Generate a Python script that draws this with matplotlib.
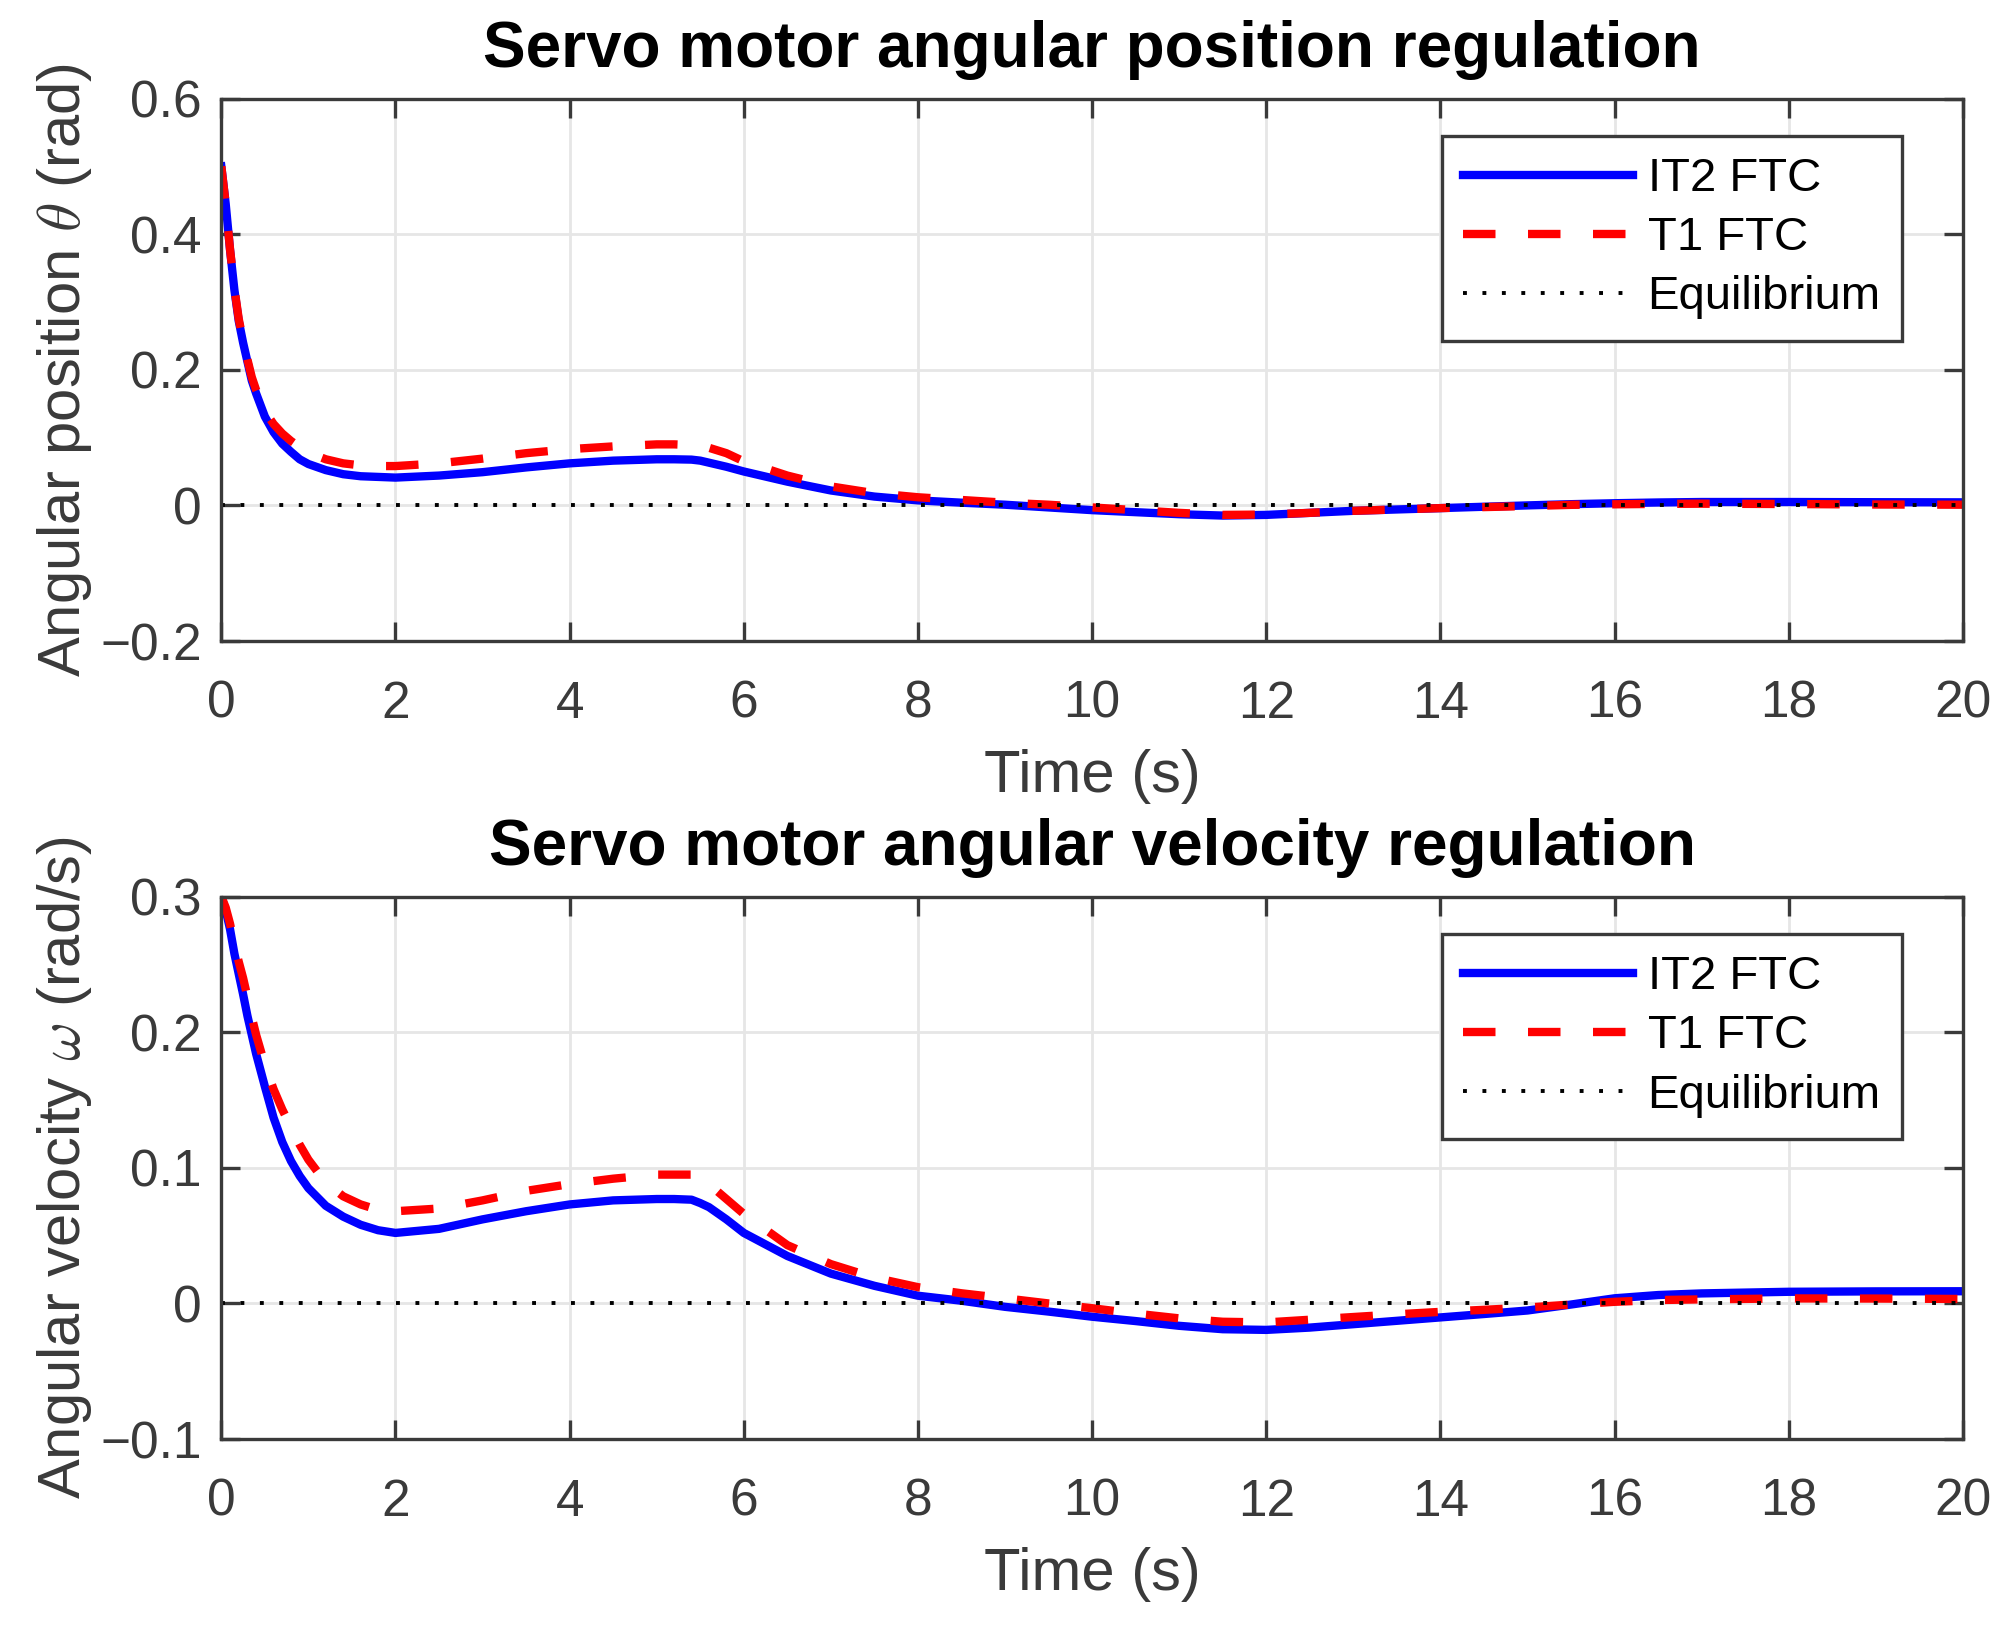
import numpy as np
import matplotlib
matplotlib.use("Agg")
import matplotlib.pyplot as plt

plt.rcParams['font.family'] = ['Liberation Sans', 'DejaVu Sans']
plt.rcParams['mathtext.fontset'] = 'cm'

# time samples (s)
t = [0, 0.05, 0.1, 0.15, 0.2, 0.25, 0.3, 0.35, 0.4, 0.5, 0.6, 0.7, 0.8, 0.9, 1.0,
     1.2, 1.4, 1.6, 1.8, 2.0, 2.5, 3.0, 3.5, 4.0, 4.5, 5.0, 5.2, 5.4, 5.5, 5.6, 5.8,
     6.0, 6.5, 7.0, 7.5, 8.0, 8.5, 9.0, 9.5, 10, 10.5, 11, 11.5, 12, 12.5, 13, 13.5,
     14, 14.5, 15, 15.5, 16, 16.5, 17, 18, 19, 20]

# angular position (rad)
theta_it2 = [0.50, 0.445, 0.377, 0.318, 0.272, 0.240, 0.212, 0.184, 0.165, 0.131, 0.108,
             0.091, 0.079, 0.068, 0.061, 0.052, 0.046, 0.043, 0.042, 0.041, 0.044, 0.049,
             0.056, 0.062, 0.066, 0.068, 0.068, 0.0675, 0.066, 0.063, 0.057,
             0.050, 0.035, 0.022, 0.013, 0.0074, 0.004, 0.001, -0.003, -0.007, -0.010,
             -0.013, -0.015, -0.014, -0.011, -0.008, -0.006, -0.004, -0.002, 0.0, 0.0018,
             0.0032, 0.0043, 0.005, 0.005, 0.0047, 0.0045]
theta_t1 = [0.50, 0.445, 0.378, 0.320, 0.275, 0.243, 0.215, 0.189, 0.170, 0.139, 0.120,
            0.106, 0.095, 0.086, 0.078, 0.068, 0.062, 0.059, 0.058, 0.058, 0.062, 0.069,
            0.077, 0.083, 0.087, 0.090, 0.090, 0.089, 0.087, 0.085, 0.077,
            0.065, 0.044, 0.028, 0.018, 0.012, 0.008, 0.004, 0.001, -0.003, -0.007,
            -0.011, -0.014, -0.0135, -0.011, -0.008, -0.006, -0.004, -0.0025, -0.001, 0.0008,
            0.0016, 0.0022, 0.0025, 0.002, 0.0013, 0.001]

# angular velocity (rad/s)
omega_it2 = [0.30, 0.29, 0.276, 0.258, 0.243, 0.228, 0.212, 0.198, 0.184, 0.160, 0.137,
             0.119, 0.105, 0.094, 0.085, 0.072, 0.064, 0.058, 0.054, 0.052, 0.055, 0.062,
             0.068, 0.073, 0.076, 0.077, 0.077, 0.0765, 0.074, 0.071, 0.062,
             0.052, 0.035, 0.022, 0.013, 0.0057, 0.002, -0.0025, -0.006, -0.0098, -0.013,
             -0.0165, -0.019, -0.0195, -0.0178, -0.0153, -0.0128, -0.0103, -0.0078, -0.0052, -0.0008,
             0.0038, 0.0062, 0.0074, 0.0086, 0.0089, 0.009]
omega_t1 = [0.30, 0.292, 0.28, 0.265, 0.252, 0.24, 0.226, 0.211, 0.198, 0.176, 0.158,
            0.143, 0.13, 0.117, 0.106, 0.089, 0.079, 0.073, 0.069, 0.068, 0.070, 0.076,
            0.083, 0.088, 0.092, 0.095, 0.095, 0.095, 0.092, 0.088, 0.077,
            0.066, 0.043, 0.029, 0.019, 0.012, 0.0075, 0.0038, 0.0, -0.0035, -0.0075,
            -0.011, -0.0135, -0.014, -0.012, -0.010, -0.008, -0.0062, -0.0047, -0.003, -0.0008,
            0.0012, 0.0025, 0.003, 0.0037, 0.0036, 0.0033]

panels = [
    ("Servo motor angular position regulation", r"Angular position $\theta$ (rad)",
     theta_it2, theta_t1, (-0.2, 0.6), [-0.2, 0, 0.2, 0.4, 0.6], ["\u22120.2", "0", "0.2", "0.4", "0.6"]),
    ("Servo motor angular velocity regulation", r"Angular velocity $\omega$ (rad/s)",
     omega_it2, omega_t1, (-0.1, 0.3), [-0.1, 0, 0.1, 0.2, 0.3], ["\u22120.1", "0", "0.1", "0.2", "0.3"]),
]

gray = '#3a3a3a'
fig = plt.figure(figsize=(20.12, 16.29), dpi=100)
boxes = [[0.110, 0.6065, 0.8656, 0.333], [0.110, 0.1166, 0.8656, 0.333]]

for box, (title, ylab, it2, t1, ylim, yt, ytl) in zip(boxes, panels):
    ax = fig.add_axes(box)
    ax.plot(t, it2, color='#0000ff', lw=6, label='IT2 FTC', solid_joinstyle='round')
    ax.plot(t, t1, color='#ff0000', lw=6, dashes=(3.9, 3.9), label='T1 FTC')
    ax.plot([0, 20], [0, 0], color='black', lw=2.8, linestyle=(0, (1, 4.0)), label='Equilibrium')
    ax.set_xlim(0, 20)
    ax.set_ylim(*ylim)
    ax.set_xticks(range(0, 21, 2))
    ax.set_yticks(yt)
    ax.set_yticklabels(ytl)
    ax.grid(True, color='#e6e6e6', lw=2.0)
    ax.set_axisbelow(True)
    for s in ax.spines.values():
        s.set_color(gray)
        s.set_linewidth(2.4)
    ax.tick_params(direction='in', length=14, width=2.4, colors=gray,
                   labelsize=37, top=True, right=True)
    ax.tick_params(axis='x', pad=28)
    ax.tick_params(axis='y', pad=14)
    ax.set_title(title, fontsize=46, fontweight='bold', pad=23)
    ax.set_xlabel("Time (s)", fontsize=43, color=gray)
    ax.set_ylabel(ylab, fontsize=43, color=gray)
    ax.xaxis.set_label_coords(0.5, -0.199)
    ax.yaxis.set_label_coords(-0.073, 0.5)
    leg = ax.legend(loc='upper right', bbox_to_anchor=(0.965, 0.931), borderaxespad=0,
                    fontsize=34, handlelength=3.6, handletextpad=0.3, labelspacing=0.32,
                    borderpad=0.45, fancybox=False, framealpha=1)
    leg.get_frame().set_edgecolor(gray)
    leg.get_frame().set_linewidth(2.4)

fig.savefig("out.png", dpi=100)
